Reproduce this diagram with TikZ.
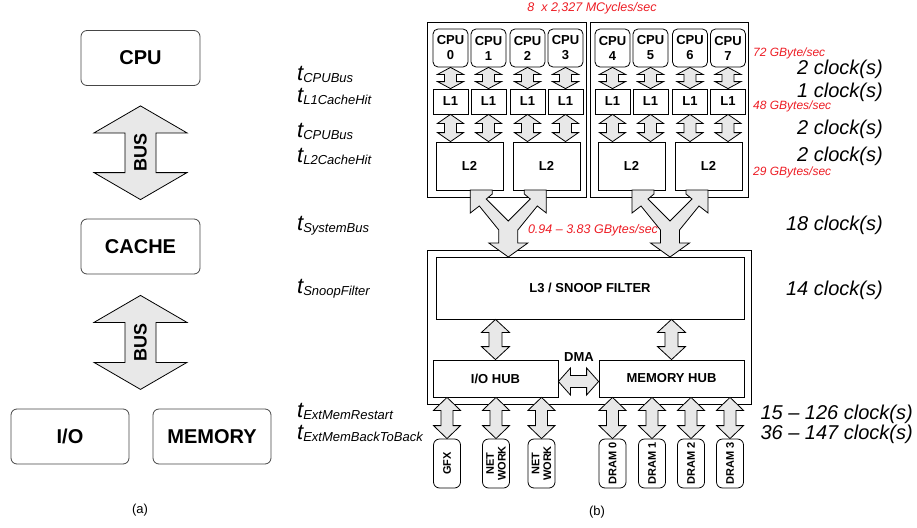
\documentclass[tikz,border=0pt]{standalone}
\usepackage{fontspec}
\setmainfont{Liberation Sans}
\usepackage{graphicx}
\usetikzlibrary{calc, positioning}
\definecolor{busgray}{RGB}{232,232,232}
\definecolor{ratered}{RGB}{237,28,36}
\definecolor{boxgray}{RGB}{70,70,70}

\newcommand{\fsz}[2]{\fontsize{#1}{#2}\selectfont}
% vertical double block arrow: top, bottom, head half width, shaft half width, head length
\newcommand{\vbus}[5]{%
  \draw[busarrow] let \p1=#1, \p2=#2 in
    (\x1,\y1) -- (\x1+#3pt,\y1-#5pt) -- (\x1+#4pt,\y1-#5pt) -- (\x1+#4pt,\y2+#5pt)
    -- (\x1+#3pt,\y2+#5pt) -- (\x1,\y2) -- (\x1-#3pt,\y2+#5pt) -- (\x1-#4pt,\y2+#5pt)
    -- (\x1-#4pt,\y1-#5pt) -- (\x1-#3pt,\y1-#5pt) -- cycle;}
% horizontal double block arrow: left, right, head half width, shaft half width, head length
\newcommand{\hbus}[5]{%
  \draw[busarrow] let \p1=#1, \p2=#2 in
    (\x1,\y1) -- (\x1+#5pt,\y1+#3pt) -- (\x1+#5pt,\y1+#4pt) -- (\x2-#5pt,\y1+#4pt)
    -- (\x2-#5pt,\y1+#3pt) -- (\x2,\y1) -- (\x2-#5pt,\y1-#3pt) -- (\x2-#5pt,\y1-#4pt)
    -- (\x1+#5pt,\y1-#4pt) -- (\x1+#5pt,\y1-#3pt) -- cycle;}
% latency name
\newcommand{\tsub}[1]{{\itshape\fsz{22}{24}t}\raisebox{-2pt}{\itshape\fsz{13}{14}#1}}

\begin{document}
\begin{tikzpicture}[x=1pt, y=-1pt,
    box/.style={draw, line width=0.8pt, fill=white, inner sep=0pt, font=\bfseries\fsz{13}{15}},
    bigbox/.style={box, draw=boxgray, rounded corners=6pt, font=\bfseries\fsz{20}{22},
        minimum width=119pt, minimum height=55pt},
    cpubox/.style={box, rounded corners=5pt, align=center, minimum width=35pt, minimum height=38pt},
    lbox/.style={box, minimum width=35pt, minimum height=25pt},
    ltwobox/.style={box, minimum width=67pt, minimum height=48pt},
    hubbox/.style={box, minimum height=37pt},
    devbox/.style={box, rounded corners=6pt, minimum width=27pt, minimum height=49pt,
        font=\bfseries\fsz{11}{11}},
    busarrow/.style={draw, line width=0.8pt, fill=busgray, line join=miter},
    rate/.style={text=ratered, font=\itshape\fsz{12}{14}, inner sep=0pt},
    tlab/.style={anchor=west, inner sep=0pt},
    clk/.style={anchor=east, inner sep=0pt, font=\itshape\fsz{20}{22}},
    caption/.style={font=\fsz{13}{15}}
]
    \useasboundingbox (0,0) rectangle (917,527);

    % (a) simple model
    \node[bigbox] (cpuA) at (140.5,58) {CPU};
    \node[bigbox] (cacheA) at (140.5,246.5) {CACHE};
    \node[bigbox, minimum width=118pt] (ioA) at (70,436.5) {I/O};
    \node[bigbox, minimum width=118pt] (memA) at (212,436.5) {MEMORY};
    \vbus{($(cpuA.south)+(0,20)$)}{($(cacheA.north)+(0,-19)$)}{46.5}{15.5}{27}
    \vbus{($(cacheA.south)+(0,21)$)}{($(cacheA.south)+(0,115)$)}{46.5}{15.5}{27}
    \node[font=\bfseries\fsz{18}{18}] (busA) at ($(cpuA.south)!0.5!(cacheA.north)$) {\rotatebox{90}{BUS}};
    \node[font=\bfseries\fsz{18}{18}] (busB) at ($(cacheA.south)+(0,68)$) {\rotatebox{90}{BUS}};
    \node[caption] (capa) at (140,510) {(a)};

    % (b) two quad-core packages
    \node[box, minimum width=159pt, minimum height=175pt] (grpL) at (506.5,109.5) {};
    \node[box, minimum width=158pt, minimum height=175pt] (grpR) at (669,109.5) {};
    \foreach \k/\cx in {a/469.5, b/546.5, c/631.5, d/708.5}
        \node[ltwobox] (ltwo\k) at (\cx,166) {L2};
    \foreach \i/\cx/\l in {0/450.5/a, 1/488.5/a, 2/527.5/b, 3/565.5/b,
                           4/612.5/c, 5/650.5/c, 6/690/d, 7/728/d} {
        \node[cpubox] (cpu\i) at (\cx,48) {CPU\\\i};
        \node[lbox] (lone\i) at (\cx,101.5) {L1};
        \vbus{(cpu\i.south)}{(lone\i.north)}{13}{6}{7}
        \vbus{(lone\i.south)}{(lone\i.south |- ltwo\l.north)}{13}{6}{9}
    }

    % chipset
    \node[box, minimum width=324pt, minimum height=154pt] (sysbox) at (589,327) {};
    \node[box, minimum width=308pt, minimum height=62pt] (lthree) at (590,288) {L3 / SNOOP FILTER};
    \node[hubbox, minimum width=125pt] (iohub) at (495.5,378.5) {I/O HUB};
    \node[hubbox, minimum width=145pt] (memhub) at (671.5,378.5) {MEMORY HUB};

    % system bus
    \foreach \cx in {508.3, 670}
        \draw[busarrow, shift={(\cx,0)}] (-38,190) -- (-38,213) -- (-29,206) -- (-9.5,230)
            -- (-9.5,243) -- (-19.5,243) -- (0,257) -- (19.5,243) -- (9.5,243) -- (9.5,230)
            -- (29,206) -- (38,213) -- (38,190) -- (16,190) -- (16,194) -- (22,199)
            -- (0,221) -- (-22,199) -- (-16,194) -- (-16,190) -- cycle;

    \vbus{(lthree.south -| iohub.north)}{(iohub.north)}{14}{6.5}{13}
    \vbus{(lthree.south -| memhub.north)}{(memhub.north)}{14}{6.5}{13}
    \hbus{($(iohub.east)+(0,3)$)}{($(memhub.west)+(0,3)$)}{13.5}{6}{12}
    \node[font=\bfseries\fsz{13}{15}] (dma) at (579,357) {DMA};

    % devices
    \foreach \dev/\cx/\txt/\hub in {gfx/447/GFX/iohub, neta/496/{\shortstack{NET\\[1pt]WORK}}/iohub,
            netb/541.5/{\shortstack{NET\\[1pt]WORK}}/iohub, drama/612.5/DRAM 0/memhub,
            dramb/652/DRAM 1/memhub, dramc/691/DRAM 2/memhub, dramd/730/DRAM 3/memhub} {
        \node[devbox] (\dev) at (\cx,463.5) {\rotatebox{90}{\txt}};
        \vbus{(\hub.south -| \dev.north)}{(\dev.north)}{13.5}{6}{13}
    }
    \node[caption] (capb) at (597,512) {(b)};

    % bandwidths
    \node[rate, font=\itshape\fsz{12.5}{14}] (rclk) at (592,8) {8~ x 2,327 MCycles/sec};
    \node[rate, font=\itshape\fsz{12.5}{14}] (rsys) at (593,230) {0.94 – 3.83 GBytes/sec};
    \node[rate, anchor=west] (rcpu) at (753,53) {72 GByte/sec};
    \node[rate, anchor=west] (rlone) at (753,106) {48 GBytes/sec};
    \node[rate, anchor=west] (rltwo) at (753,172) {29 GBytes/sec};

    % latencies
    \foreach \y/\s/\nm in {74/CPUBus/ta, 96/L1CacheHit/tb, 131/CPUBus/tc, 156/L2CacheHit/td,
            226/SystemBus/te, 289/SnoopFilter/tf, 411/ExtMemRestart/tg, 433/ExtMemBackToBack/th}
        \node[tlab] (\nm) at (297,\y) {\tsub{\s}};
    \foreach \y/\c/\nm in {69/2/ca, 92/1/cb, 129/2/cc, 156/2/cd, 225/18/ce, 290/14/cf}
        \node[clk] (\nm) at (883,\y) {\c\ clock(s)};
    \node[clk] (cg) at (913,414) {15 – 126 clock(s)};
    \node[clk] (ch) at (913,434) {36 – 147 clock(s)};
\end{tikzpicture}
\end{document}
